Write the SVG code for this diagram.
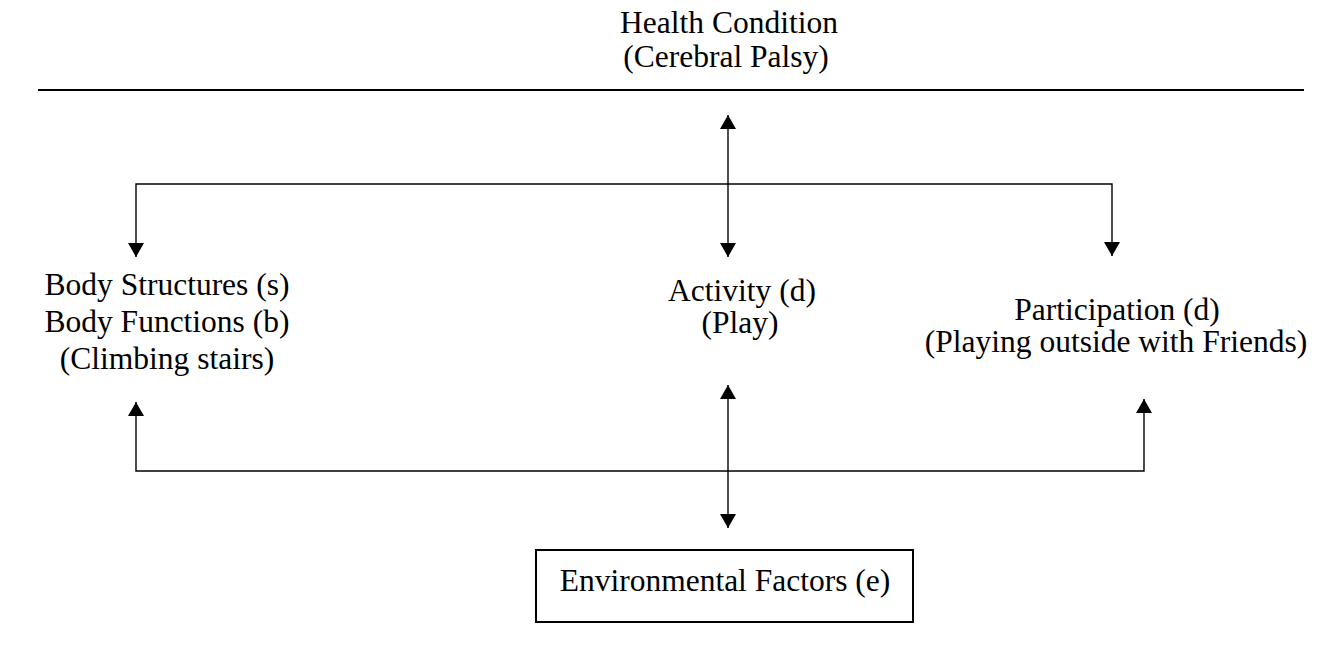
<svg xmlns="http://www.w3.org/2000/svg" width="1329" height="656" viewBox="0 0 1329 656">
<style>
text{font-family:"Liberation Serif","Times New Roman",serif;font-size:31.5px;fill:#000;text-anchor:middle}
.c{stroke:#000;stroke-width:1.4;fill:none}
</style>
<defs>
<marker id="ah" markerUnits="userSpaceOnUse" markerWidth="16" markerHeight="16" refX="14" refY="8" orient="auto-start-reverse" viewBox="0 0 14 16">
<path d="M0,0 L14,8 L0,16 Z" fill="#000"/>
</marker>
</defs>
<rect width="1329" height="656" fill="#fff"/>
<g id="health">
<text x="729" y="33">Health Condition</text>
<text x="726" y="67">(Cerebral Palsy)</text>
<line x1="38" y1="90" x2="1304" y2="90" stroke="#000" stroke-width="1.8"/>
</g>
<g id="body">
<text x="167" y="295">Body Structures (s)</text>
<text x="167" y="332">Body Functions (b)</text>
<text x="167" y="369">(Climbing stairs)</text>
</g>
<g id="activity">
<text x="742" y="301">Activity (d)</text>
<text x="740" y="333">(Play)</text>
</g>
<g id="participation">
<text x="1117" y="320">Participation (d)</text>
<text x="1116" y="352">(Playing outside with Friends)</text>
</g>
<g id="environment">
<rect x="536" y="550" width="377" height="72" fill="none" stroke="#000" stroke-width="2"/>
<text x="725" y="591">Environmental Factors (e)</text>
</g>
<g id="connectors">
<line class="c" x1="728" y1="115" x2="728" y2="257" marker-start="url(#ah)" marker-end="url(#ah)"/>
<polyline class="c" points="136,257 136,184 1112,184 1112,256" marker-start="url(#ah)" marker-end="url(#ah)"/>
<polyline class="c" points="136,402 136,471 1144,471 1144,399" marker-start="url(#ah)" marker-end="url(#ah)"/>
<line class="c" x1="728" y1="385" x2="728" y2="528" marker-start="url(#ah)" marker-end="url(#ah)"/>
</g>
</svg>
